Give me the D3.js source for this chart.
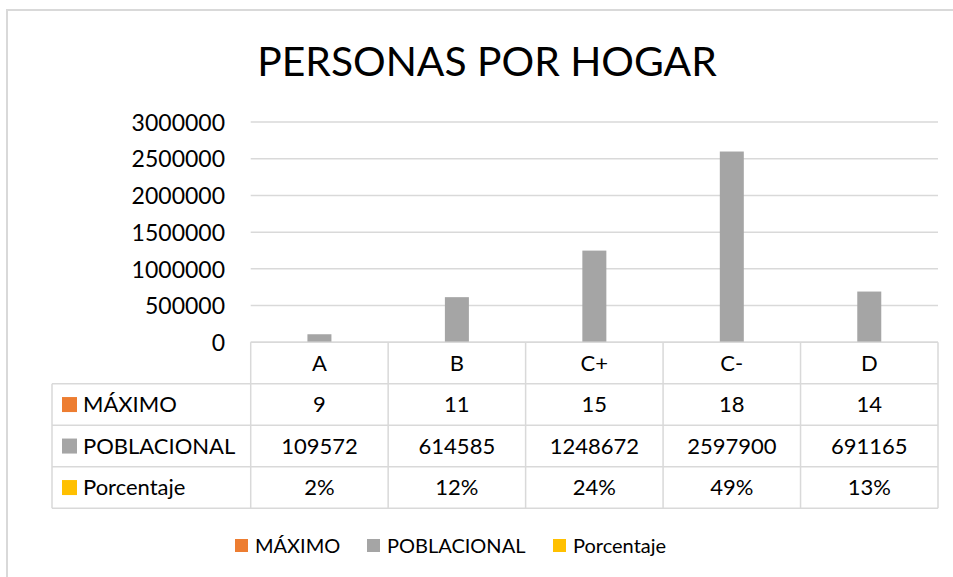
<!DOCTYPE html>
<html>
<head>
<meta charset="utf-8">
<script src="https://cdn.jsdelivr.net/npm/d3@7"></script>
<style>
  html, body { margin: 0; padding: 0; background: #fff; }
  svg { display: block; font-family: Lato, "Open Sans", sans-serif; }
</style>
</head>
<body>
<svg id="chart" width="953" height="577"></svg>
<script>
// data
const categories = ['A', 'B', 'C+', 'C-', 'D'];
const seriesNames = ['MÁXIMO', 'POBLACIONAL', 'Porcentaje'];
const maximo = [9, 11, 15, 18, 14];
const poblacional = [109572, 614585, 1248672, 2597900, 691165];
const porcentaje = [0.02, 0.12, 0.24, 0.49, 0.13];
const porcentajeLabels = ['2%', '12%', '24%', '49%', '13%'];
const yTicks = [0, 500000, 1000000, 1500000, 2000000, 2500000, 3000000];
const colors = ['#ED7D31', '#A5A5A5', '#FFC000'];

const seriesValues = [maximo, poblacional, porcentaje];
const tableText = [maximo.map(String), poblacional.map(String), porcentajeLabels];

const svg = d3.select('#chart');
const lineColor = '#d9d9d9';

// outer chart border (only top and left visible)
svg.append('path')
    .attr('d', 'M7,600 L7,10 L960,10')
    .attr('fill', 'none')
    .attr('stroke', lineColor)
    .attr('stroke-width', 2);

// title
svg.append('text')
    .attr('x', 487)
    .attr('y', 76)
    .attr('text-anchor', 'middle')
    .attr('font-size', 40.8)
    .attr('fill', '#000')
    .text('PERSONAS POR HOGAR');

const plotLeft = 250.7, plotRight = 938, plotTop = 122, plotBottom = 342.3;
const rowH = 41.5;
const tableLeft = 52;

const x = d3.scaleBand().domain(categories).range([plotLeft, plotRight]);
const y = d3.scaleLinear().domain([0, 3000000]).range([plotBottom, plotTop]);
const xs = d3.scaleBand().domain(seriesNames).range([-36, 36]);

// gridlines
svg.append('g').selectAll('line').data(yTicks).join('line')
    .attr('x1', plotLeft).attr('x2', plotRight)
    .attr('y1', d => y(d)).attr('y2', d => y(d))
    .attr('stroke', lineColor).attr('stroke-width', 1.5);

// y axis labels
const yAxis = d3.axisLeft(y).tickValues(yTicks).tickSize(0).tickPadding(0)
    .tickFormat(d3.format('d'));
const yg = svg.append('g').attr('transform', `translate(225,0)`).call(yAxis);
yg.select('.domain').remove();
yg.selectAll('text')
    .attr('font-family', 'Lato, sans-serif')
    .attr('font-size', 23)
    .attr('fill', '#000')
    .attr('dy', '0.36em');

// bars
seriesNames.forEach((s, si) => {
    svg.append('g').selectAll('rect').data(categories).join('rect')
        .attr('x', d => x(d) + x.bandwidth() / 2 + xs(s))
        .attr('width', xs.bandwidth())
        .attr('y', (d, i) => y(seriesValues[si][i]))
        .attr('height', (d, i) => y(0) - y(seriesValues[si][i]))
        .attr('fill', colors[si]);
});

// data table
const tg = svg.append('g');
const rowsY = [plotBottom, plotBottom + rowH, plotBottom + 2 * rowH, plotBottom + 3 * rowH, plotBottom + 4 * rowH];
// horizontal lines
rowsY.forEach((ry, i) => {
    tg.append('line')
        .attr('x1', i === 0 ? plotLeft : tableLeft).attr('x2', plotRight)
        .attr('y1', ry).attr('y2', ry)
        .attr('stroke', lineColor).attr('stroke-width', 1.5);
});
// vertical lines
const colEdges = categories.map(c => x(c)).concat([plotRight]);
colEdges.forEach(cx => {
    tg.append('line')
        .attr('x1', cx).attr('x2', cx)
        .attr('y1', plotBottom).attr('y2', rowsY[4])
        .attr('stroke', lineColor).attr('stroke-width', 1.5);
});
tg.append('line')
    .attr('x1', tableLeft).attr('x2', tableLeft)
    .attr('y1', rowsY[1]).attr('y2', rowsY[4])
    .attr('stroke', lineColor).attr('stroke-width', 1.5);

// header categories
tg.selectAll('text.cat').data(categories).join('text')
    .attr('class', 'cat')
    .attr('x', d => x(d) + x.bandwidth() / 2)
    .attr('y', plotBottom + rowH / 2)
    .attr('dy', '0.36em')
    .attr('text-anchor', 'middle')
    .attr('font-size', 22)
    .text(d => d);

// rows
seriesNames.forEach((s, si) => {
    const cy = rowsY[si + 1] + rowH / 2;
    tg.append('rect')
        .attr('x', 62).attr('y', cy - 7.5)
        .attr('width', 15).attr('height', 15)
        .attr('fill', colors[si]);
    tg.append('text')
        .attr('x', 83)
        .attr('y', cy).attr('dy', '0.36em')
        .attr('font-size', 22)
        .text(s);
    tg.append('g').selectAll('text').data(categories).join('text')
        .attr('x', d => x(d) + x.bandwidth() / 2)
        .attr('y', cy).attr('dy', '0.36em')
        .attr('text-anchor', 'middle')
        .attr('font-size', 22)
        .text((d, i) => tableText[si][i]);
});

// legend
const legendX = [235, 367, 553];
const lg = svg.append('g');
seriesNames.forEach((s, si) => {
    lg.append('rect')
        .attr('x', legendX[si]).attr('y', 539)
        .attr('width', 13).attr('height', 13)
        .attr('fill', colors[si]);
    lg.append('text')
        .attr('x', legendX[si] + 20).attr('y', 545.5).attr('dy', '0.36em')
        .attr('font-size', 20)
        .text(s);
});
</script>
</body>
</html>
